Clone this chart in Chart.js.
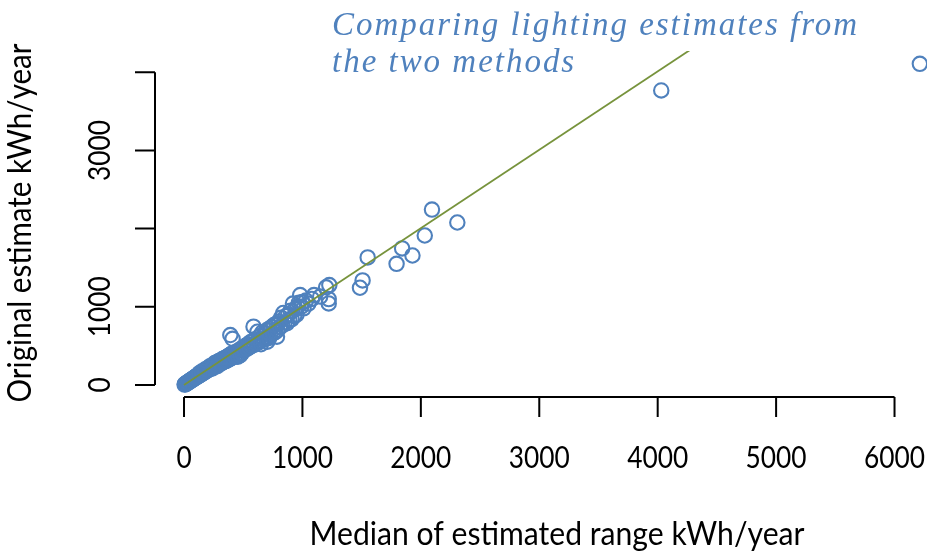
<!DOCTYPE html>
<html>
<head>
<meta charset="utf-8">
<title>Lighting estimates</title>
<script src="https://cdn.jsdelivr.net/npm/chart.js@4"></script>
<style>
  html, body { margin: 0; padding: 0; background: #fff; overflow: hidden; }
  #plot { display: block; }
</style>
</head>
<body>
<canvas id="plot" width="1000" height="551"></canvas>
<script>
// Median of the estimated range (x) against the original estimate (y), kWh/year
const medianRange = [
    5, 8, 12, 15, 18, 22, 25, 28, 32, 35, 38, 42, 45, 48, 52, 55, 58, 62, 65, 68, 72, 75, 78, 82, 85, 88, 92, 95, 98, 100,
    104, 108, 112, 116, 120, 124, 128, 132, 136, 140, 144, 148, 152, 156, 160, 165, 170, 175, 180, 185, 190, 195, 200, 205, 210,
    215, 220, 225, 230, 235, 240, 245, 250, 255, 260, 265, 270, 275, 280, 285, 290, 295, 300, 180, 220, 260, 150, 240, 280, 130,
    305, 310, 315, 320, 325, 330, 335, 340, 345, 350, 355, 360, 365, 370, 375, 380, 385, 390, 395, 391, 410, 400, 405, 410, 420,
    430, 440, 450, 460, 470, 480, 490, 500, 455, 475,
    510, 520, 530, 540, 550, 560, 570, 580, 587, 590, 600, 610, 620, 630, 640, 650, 660, 670, 680, 690, 700, 703, 710, 720, 730,
    740, 750, 760, 770, 785, 780, 790, 800, 650, 720,
    810, 820, 830, 838, 850, 860, 870, 880, 890, 900, 910, 920, 930, 940, 950, 960, 970, 981, 990, 1000, 1010, 1030, 1050, 1080,
    1098, 1150, 1200, 1227, 1222, 1222,
    1486, 1508, 1551, 1795, 1842, 1929, 2033, 2094, 2308, 4030, 6214
];
const originalEstimate = [
    4, 9, 10, 17, 14, 25, 21, 30, 28, 38, 33, 45, 40, 52, 47, 58, 54, 66, 60, 72, 68, 80, 73, 86, 79, 93, 88, 101, 92, 105,
    98, 115, 106, 121, 112, 130, 120, 138, 129, 146, 135, 155, 143, 162, 150, 172, 160, 182, 168, 194, 178, 203, 188, 214, 198,
    224, 206, 236, 215, 246, 226, 255, 233, 266, 243, 276, 252, 286, 262, 295, 270, 306, 280, 200, 240, 280, 170, 210, 240, 150,
    300, 270, 318, 285, 330, 290, 335, 300, 345, 305, 350, 310, 360, 318, 370, 330, 380, 335, 392, 638, 590, 345, 400, 350, 405,
    360, 425, 385, 440, 395, 460, 410, 480, 360, 380,
    450, 500, 460, 520, 480, 545, 500, 560, 745, 510, 585, 530, 680, 545, 625, 565, 670, 580, 660, 600, 700, 553, 615, 720, 640,
    740, 660, 765, 675, 617, 780, 700, 810, 520, 600,
    740, 860, 760, 920, 800, 880, 790, 900, 830, 950, 840, 1040, 880, 970, 900, 1000, 1050, 1149, 1000, 1060, 980, 1080, 1040, 1100,
    1149, 1130, 1248, 1277, 1098, 1043,
    1243, 1337, 1631, 1549, 1746, 1656, 1912, 2244, 2078, 3768, 4109
];

// fitted line
const fitX = [0, 6214];
const fitY = [0, 6233];

const xTicks = [0, 1000, 2000, 3000, 4000, 5000, 6000];
const xTickLabels = ['0', '1000', '2000', '3000', '4000', '5000', '6000'];
const yTicks = [0, 1000, 2000, 3000, 4000];
const yTickLabels = ['0', '1000', '', '3000', ''];

const titleLines = ['Comparing lighting estimates from', 'the two methods'];
const xTitle = 'Median of estimated range kWh/year';
const yTitle = 'Original estimate kWh/year';

const BLUE = '#4f81bd';
const GREEN = '#77933c';
const SANS = 'Lato, "Open Sans", sans-serif';

const points = medianRange.map((x, i) => ({ x: x, y: originalEstimate[i] }));
const fitLine = fitX.map((x, i) => ({ x: x, y: fitY[i] }));

// draws text squeezed/stretched horizontally to a given width
function fitText(ctx, text, width) {
    const w = ctx.measureText(text).width;
    ctx.scale(width / w, 1);
    ctx.fillText(text, 0, 0);
}

// base-graphics style axes: lines only span first..last tick, gap from the box
const axesPlugin = {
    id: 'baseAxes',
    afterDraw(chart) {
        const { ctx, chartArea, scales } = chart;
        const xs = scales.x, ys = scales.y;
        const axisY = chartArea.bottom;
        const axisX = chartArea.left;

        ctx.save();
        ctx.strokeStyle = '#000';
        ctx.lineWidth = 2;
        ctx.beginPath();
        ctx.moveTo(xs.getPixelForValue(xTicks[0]), axisY);
        ctx.lineTo(xs.getPixelForValue(xTicks[xTicks.length - 1]), axisY);
        xTicks.forEach(v => {
            const p = xs.getPixelForValue(v);
            ctx.moveTo(p, axisY);
            ctx.lineTo(p, axisY + 20);
        });
        ctx.moveTo(axisX, ys.getPixelForValue(yTicks[0]));
        ctx.lineTo(axisX, ys.getPixelForValue(yTicks[yTicks.length - 1]));
        yTicks.forEach(v => {
            const p = ys.getPixelForValue(v);
            ctx.moveTo(axisX, p);
            ctx.lineTo(axisX - 20, p);
        });
        ctx.stroke();

        // tick labels
        ctx.fillStyle = '#000';
        ctx.font = '30px ' + SANS;
        ctx.textAlign = 'center';
        ctx.textBaseline = 'alphabetic';
        const squeeze = 61 / ctx.measureText('1000').width;
        xTicks.forEach((v, i) => {
            ctx.save();
            ctx.translate(xs.getPixelForValue(v), 468);
            ctx.scale(squeeze, 1);
            ctx.fillText(xTickLabels[i], 0, 0);
            ctx.restore();
        });
        yTicks.forEach((v, i) => {
            if (!yTickLabels[i]) return;
            ctx.save();
            ctx.translate(110, ys.getPixelForValue(v));
            ctx.rotate(-Math.PI / 2);
            ctx.scale(squeeze, 1);
            ctx.fillText(yTickLabels[i], 0, 0);
            ctx.restore();
        });

        // axis titles
        ctx.font = '32px ' + SANS;
        ctx.save();
        ctx.translate(557, 545);
        fitText(ctx, xTitle, 495);
        ctx.restore();
        ctx.save();
        ctx.translate(31, 223);
        ctx.rotate(-Math.PI / 2);
        fitText(ctx, yTitle, 359);
        ctx.restore();

        // title, two lines, left aligned
        ctx.fillStyle = BLUE;
        ctx.textAlign = 'left';
        ctx.font = 'italic 33px "Liberation Serif", serif';
        const base = ctx.measureText(titleLines[0]).width;
        const spacing = (525 - base) / (titleLines[0].length - 1);
        ctx.letterSpacing = spacing.toFixed(2) + 'px';
        ctx.fillText(titleLines[0], 332, 35);
        ctx.fillText(titleLines[1], 332, 72);
        ctx.restore();
    }
};

new Chart(document.getElementById('plot'), {
    type: 'scatter',
    data: {
        datasets: [
            {
                label: 'fit',
                data: fitLine,
                showLine: true,
                borderColor: GREEN,
                borderWidth: 1.8,
                pointRadius: 0,
                order: 0
            },
            {
                label: 'estimates',
                data: points,
                pointStyle: 'circle',
                pointRadius: 7.2,
                pointBorderWidth: 2.1,
                borderColor: BLUE,
                backgroundColor: 'rgba(0,0,0,0)',
                clip: false,
                order: 1
            }
        ]
    },
    options: {
        responsive: false,
        devicePixelRatio: 1,
        animation: false,
        layout: { padding: { left: 155, top: 51, right: 51, bottom: 154 } },
        plugins: { legend: { display: false }, tooltip: { enabled: false } },
        scales: {
            x: { type: 'linear', display: false, min: -245, max: 6460 },
            y: { type: 'linear', display: false, min: -155, max: 4273 }
        }
    },
    plugins: [axesPlugin]
});
</script>
</body>
</html>
